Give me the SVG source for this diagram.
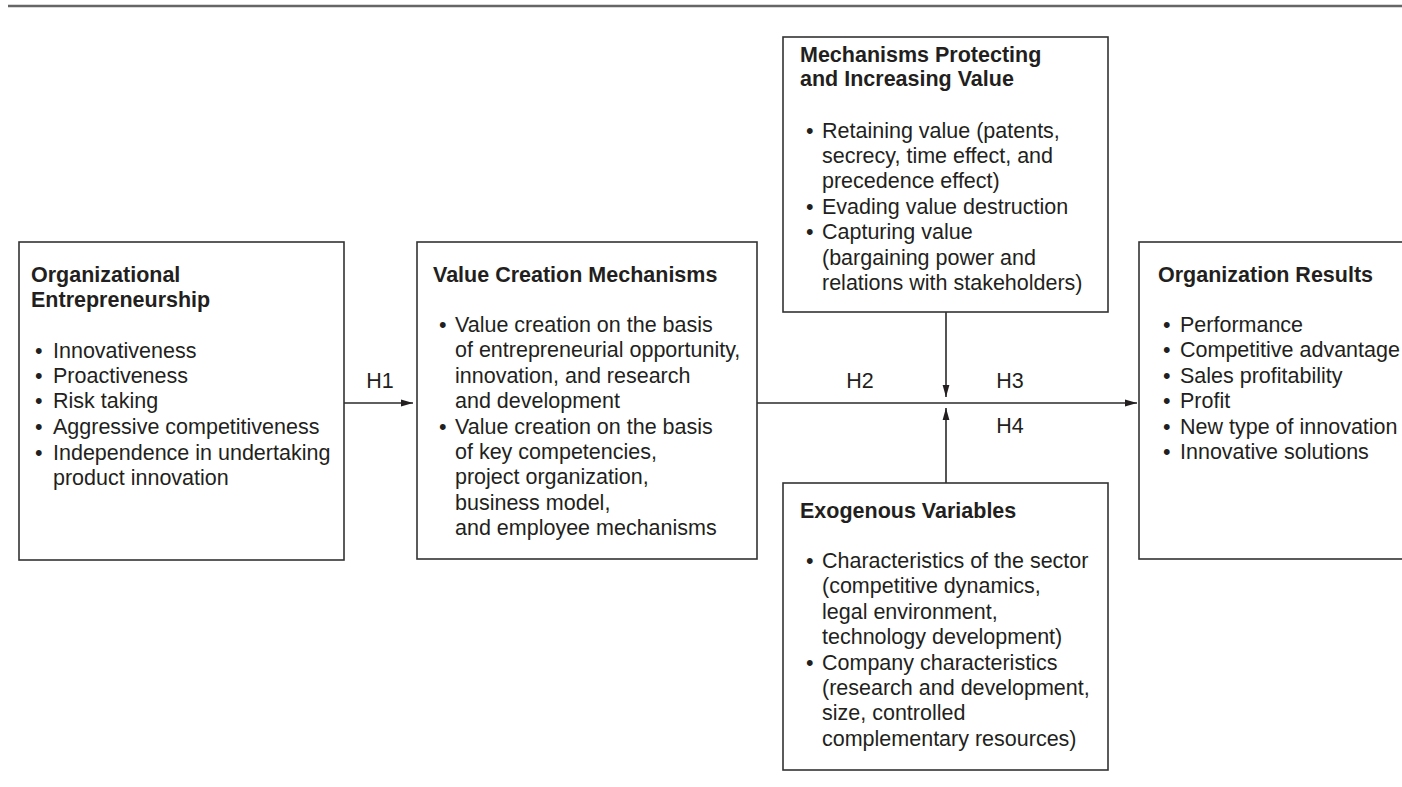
<svg xmlns="http://www.w3.org/2000/svg" width="1402" height="787" viewBox="0 0 1402 787">
  <style>
    .box { fill: #ffffff; stroke: #333333; stroke-width: 1.6; }
    .t { font-family: "Liberation Sans", Arial, Helvetica, sans-serif; font-size: 21.5px; fill: #231f20; }
    .b { font-weight: bold; }
    .conn { stroke: #2a2a2a; stroke-width: 1.6; fill: none; }
    .lbl { text-anchor: middle; }
  </style>
  <defs>
    <marker id="arrow" markerUnits="userSpaceOnUse" markerWidth="13" markerHeight="8" refX="12" refY="4" orient="auto">
      <path d="M0,0.6 L12,4 L0,7.4 Z" fill="#231f20"/>
    </marker>
  </defs>

  <rect width="1402" height="787" fill="#ffffff"/>
  <!-- rule across the top -->
  <line x1="8" y1="6" x2="1402" y2="6" stroke="#666666" stroke-width="2.5"/>

  <g id="connectors">
    <line class="conn" x1="344" y1="403" x2="413" y2="403" marker-end="url(#arrow)"/>
    <line class="conn" x1="757" y1="403" x2="1137" y2="403" marker-end="url(#arrow)"/>
    <line class="conn" x1="946" y1="312" x2="946" y2="397" marker-end="url(#arrow)"/>
    <line class="conn" x1="946" y1="483" x2="946" y2="408" marker-end="url(#arrow)"/>
    <text class="t lbl" x="380" y="388">H1</text>
    <text class="t lbl" x="860" y="388">H2</text>
    <text class="t lbl" x="1010" y="388">H3</text>
    <text class="t lbl" x="1010" y="433">H4</text>
  </g>

  <g id="org-entrepreneurship">
    <rect class="box" x="19" y="242" width="325" height="318"/>
    <text class="t b" x="31" y="282">Organizational</text>
    <text class="t b" x="31" y="307">Entrepreneurship</text>
    <g class="t">
      <text x="35" y="358">•</text><text x="53" y="358">Innovativeness</text>
      <text x="35" y="383">•</text><text x="53" y="383">Proactiveness</text>
      <text x="35" y="408">•</text><text x="53" y="408">Risk taking</text>
      <text x="35" y="434">•</text><text x="53" y="434">Aggressive competitiveness</text>
      <text x="35" y="460">•</text><text x="53" y="460">Independence in undertaking</text>
      <text x="53" y="485">product innovation</text>
    </g>
  </g>

  <g id="value-creation">
    <rect class="box" x="417" y="242" width="340" height="317"/>
    <text class="t b" x="433" y="282">Value Creation Mechanisms</text>
    <g class="t">
      <text x="439" y="332">•</text><text x="455" y="332">Value creation on the basis</text>
      <text x="455" y="357">of entrepreneurial opportunity,</text>
      <text x="455" y="383">innovation, and research</text>
      <text x="455" y="408">and development</text>
      <text x="439" y="434">•</text><text x="455" y="434">Value creation on the basis</text>
      <text x="455" y="459">of key competencies,</text>
      <text x="455" y="484">project organization,</text>
      <text x="455" y="510">business model,</text>
      <text x="455" y="535">and employee mechanisms</text>
    </g>
  </g>

  <g id="protecting-value">
    <rect class="box" x="783" y="37" width="325" height="275"/>
    <text class="t b" x="800" y="62">Mechanisms Protecting</text>
    <text class="t b" x="800" y="86">and Increasing Value</text>
    <g class="t">
      <text x="806" y="138">•</text><text x="822" y="138">Retaining value (patents,</text>
      <text x="822" y="163">secrecy, time effect, and</text>
      <text x="822" y="188">precedence effect)</text>
      <text x="806" y="214">•</text><text x="822" y="214">Evading value destruction</text>
      <text x="806" y="239">•</text><text x="822" y="239">Capturing value</text>
      <text x="822" y="265">(bargaining power and</text>
      <text x="822" y="290">relations with stakeholders)</text>
    </g>
  </g>

  <g id="exogenous-variables">
    <rect class="box" x="783" y="483" width="325" height="287"/>
    <text class="t b" x="800" y="518">Exogenous Variables</text>
    <g class="t">
      <text x="806" y="568">•</text><text x="822" y="568">Characteristics of the sector</text>
      <text x="822" y="593">(competitive dynamics,</text>
      <text x="822" y="619">legal environment,</text>
      <text x="822" y="644">technology development)</text>
      <text x="806" y="670">•</text><text x="822" y="670">Company characteristics</text>
      <text x="822" y="695">(research and development,</text>
      <text x="822" y="720">size, controlled</text>
      <text x="822" y="746">complementary resources)</text>
    </g>
  </g>

  <g id="organization-results">
    <rect class="box" x="1139" y="242" width="290" height="317"/>
    <text class="t b" x="1158" y="282">Organization Results</text>
    <g class="t">
      <text x="1163" y="332">•</text><text x="1180" y="332">Performance</text>
      <text x="1163" y="357">•</text><text x="1180" y="357">Competitive advantage</text>
      <text x="1163" y="383">•</text><text x="1180" y="383">Sales profitability</text>
      <text x="1163" y="408">•</text><text x="1180" y="408">Profit</text>
      <text x="1163" y="434">•</text><text x="1180" y="434">New type of innovation</text>
      <text x="1163" y="459">•</text><text x="1180" y="459">Innovative solutions</text>
    </g>
  </g>
</svg>
